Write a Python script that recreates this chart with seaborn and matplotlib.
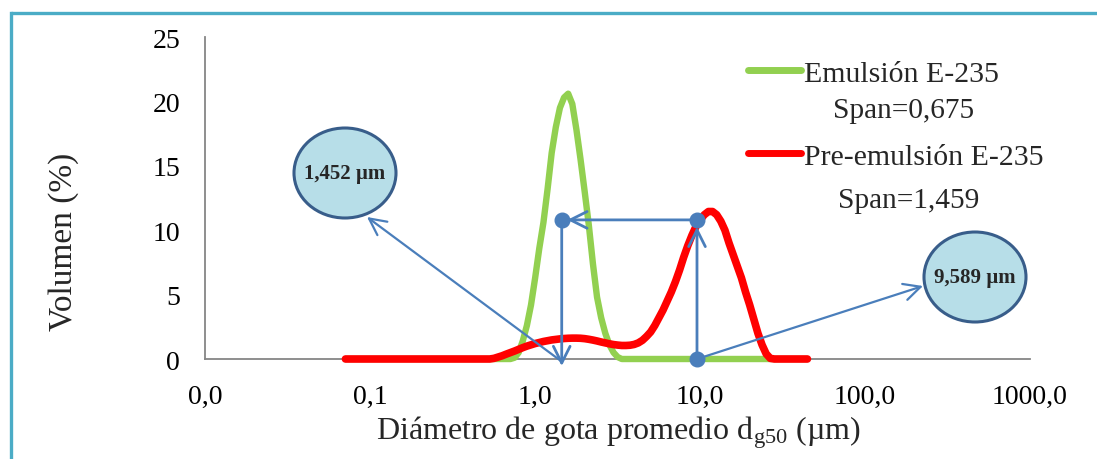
import matplotlib
matplotlib.use("Agg")
import matplotlib.pyplot as plt
from matplotlib.patches import Ellipse
from matplotlib.lines import Line2D
from matplotlib.ticker import FixedLocator, FuncFormatter
import seaborn as sns
import pandas as pd

# Particle size classes (µm)
sizes = [0.071, 0.080, 0.089, 0.100, 0.112, 0.126, 0.142, 0.159, 0.178, 0.200,
         0.224, 0.252, 0.283, 0.317, 0.356, 0.399, 0.448, 0.502, 0.532, 0.564,
         0.597, 0.632, 0.670, 0.710, 0.752, 0.796, 0.843, 0.893, 0.946, 1.002,
         1.062, 1.125, 1.192, 1.262, 1.337, 1.416, 1.500, 1.589, 1.683, 1.783,
         1.888, 2.000, 2.119, 2.244, 2.377, 2.518, 2.667, 2.825, 2.993, 3.170,
         3.358, 3.557, 3.768, 3.991, 4.227, 4.477, 4.743, 5.024, 5.322, 5.637,
         5.971, 6.325, 6.699, 7.096, 7.517, 7.962, 8.434, 8.934, 9.464, 10.024,
         10.618, 11.247, 11.913, 12.619, 13.367, 14.159, 14.998, 15.887, 16.828, 17.825,
         18.881, 20.000, 21.185, 22.440, 23.770, 25.179, 26.671, 28.251, 31.698, 35.566,
         39.905, 44.774]

# Volume (%) of the final emulsion
emulsion = [0, 0, 0, 0, 0, 0, 0, 0, 0, 0,
            0, 0, 0, 0, 0, 0, 0, 0, 0, 0,
            0, 0, 0, 0, 0.1, 0.5, 1.4, 2.6, 4.2, 6.3,
            8.6, 10.6, 13.2, 16.0, 18.0, 19.5, 20.3, 20.6, 19.8, 17.8,
            15.5, 13.0, 10.4, 7.4, 4.8, 3.2, 2.0, 1.1, 0.5, 0.15,
            0, 0, 0, 0, 0, 0, 0, 0, 0, 0,
            0, 0, 0, 0, 0, 0, 0, 0, 0, 0,
            0, 0, 0, 0, 0, 0, 0, 0, 0, 0,
            0, 0, 0, 0, 0, 0, 0, 0, 0, 0,
            0, 0]

# Volume (%) of the pre-emulsion
pre_emulsion = [0, 0, 0, 0, 0, 0, 0, 0, 0, 0,
                0, 0, 0, 0, 0, 0, 0, 0, 0, 0.05,
                0.15, 0.25, 0.38, 0.5, 0.62, 0.75, 0.88, 1.0, 1.1, 1.2,
                1.28, 1.36, 1.42, 1.48, 1.52, 1.56, 1.59, 1.61, 1.62, 1.62,
                1.61, 1.58, 1.53, 1.47, 1.40, 1.32, 1.25, 1.18, 1.12, 1.08,
                1.05, 1.05, 1.07, 1.13, 1.25, 1.45, 1.75, 2.1, 2.6, 3.2,
                3.8, 4.5, 5.2, 6.0, 6.9, 7.9, 8.8, 9.6, 10.3, 10.8,
                11.2, 11.45, 11.45, 11.2, 10.7, 10.0, 9.0, 8.1, 7.2, 6.3,
                5.2, 4.2, 3.1, 2.0, 1.1, 0.4, 0.05, 0, 0, 0,
                0, 0]

series_labels = ["Emulsión E-235", "Pre-emulsión E-235"]
span_labels = ["Span=0,675", "Span=1,459"]
d50_values = [1.452, 9.589]          # mean droplet diameters (µm)
d50_labels = ["1,452 µm", "9,589 µm"]
guide_level = 10.8                   # height of the d50 guide arrows (%)

x_ticks = [0.01, 0.1, 1, 10, 100, 1000]
y_ticks = [0, 5, 10, 15, 20, 25]

assert len(sizes) == len(emulsion) == len(pre_emulsion)

W, H = 1097, 460
sns.set_theme(style="white")
plt.rcParams["font.family"] = ["Liberation Serif", "DejaVu Serif"]
plt.rcParams["mathtext.fontset"] = "custom"
plt.rcParams["mathtext.rm"] = "Liberation Serif"
plt.rcParams["mathtext.it"] = "Liberation Serif:italic"

fig = plt.figure(figsize=(W / 100, H / 100), dpi=100)
fig.patch.set_facecolor("white")


def px(x, y):
    """Pixel position -> figure fraction."""
    return (x / W, 1 - y / H)


ax = fig.add_axes([205 / W, 1 - 360 / H, (1030 - 205) / W, (360 - 38) / H])

GREEN = "#92D050"
RED = "#FF0000"
BLUE = "#4A7EBB"

df = pd.DataFrame({"size": sizes, series_labels[0]: emulsion, series_labels[1]: pre_emulsion})
sns.lineplot(data=df, x="size", y=series_labels[0], ax=ax, color=GREEN, linewidth=4.6,
             label=series_labels[0], solid_capstyle="round", solid_joinstyle="round",
             clip_on=False, zorder=3)
sns.lineplot(data=df, x="size", y=series_labels[1], ax=ax, color=RED, linewidth=5.5,
             label=series_labels[1], solid_capstyle="round", solid_joinstyle="round",
             clip_on=False, zorder=4)

ax.set_xscale("log")
ax.set_xlim(0.01, 1000)
ax.set_ylim(0, 25)
ax.xaxis.set_major_locator(FixedLocator(x_ticks))
ax.xaxis.set_minor_locator(FixedLocator([]))
ax.xaxis.set_major_formatter(FuncFormatter(lambda v, p: f"{v:.1f}".replace(".", ",")))
ax.set_yticks(y_ticks)
ax.tick_params(axis="both", length=0, labelsize=20, pad=18, colors="black")
ax.set_xlabel("")
ax.set_ylabel("")
for side in ("top", "right"):
    ax.spines[side].set_visible(False)
for side in ("left", "bottom"):
    ax.spines[side].set_color("#868686")
    ax.spines[side].set_linewidth(1.3)

fig.text(*px(64, 242), "Volumen (%)", rotation=90, ha="center", va="center", fontsize=24)
fig.text(*px(618, 433), r"Diámetro de gota promedio d$_{\mathrm{g50}}$ (µm)",
         ha="center", va="center", fontsize=23)

# d50 guide arrows
arrow_kw = dict(arrowstyle="->,head_length=1.2,head_width=0.6", color=BLUE, lw=2.0,
                mutation_scale=10, shrinkA=0, shrinkB=0)
ax.annotate("", xy=(d50_values[0], guide_level), xytext=(d50_values[1], guide_level),
            arrowprops=dict(arrow_kw, shrinkB=4), annotation_clip=False, zorder=6)
ax.annotate("", xy=(d50_values[0], -0.55), xytext=(d50_values[0], guide_level),
            arrowprops=arrow_kw, annotation_clip=False, zorder=6)
ax.annotate("", xy=(d50_values[1], guide_level), xytext=(d50_values[1], 0),
            arrowprops=dict(arrow_kw, shrinkB=5), annotation_clip=False, zorder=6)
ax.plot([d50_values[0], d50_values[1], d50_values[1]], [guide_level, guide_level, 0],
        linestyle="none", marker="o", markersize=10.5, color=BLUE, clip_on=False, zorder=7)

# call-out bubbles
bubble_centres = [(345, 174), (975, 278)]
bubble_tips = [(367, 218), (923, 287)]
bubble_bases = [(d50_values[0], -0.2), (d50_values[1], 0)]
diag_kw = dict(arrowstyle="->,head_length=1.2,head_width=0.6", color=BLUE, lw=1.6,
               mutation_scale=10, shrinkA=0, shrinkB=0)
for centre, tip, base, text in zip(bubble_centres, bubble_tips, bubble_bases, d50_labels):
    ax.annotate("", xy=px(*tip), xycoords="figure fraction", xytext=base,
                textcoords="data", arrowprops=diag_kw, annotation_clip=False, zorder=6)
    e = Ellipse(px(*centre), 102 / W, 90 / H, transform=fig.transFigure,
                facecolor="#B7DEE8", edgecolor="#385D8A", linewidth=2.2, zorder=8)
    fig.add_artist(e)
    fig.text(*px(*centre), text, ha="center", va="center", fontsize=15,
             fontweight="bold", zorder=9)

# legend and span notes
leg = ax.legend(loc="upper left", bbox_to_anchor=px(748, 61), bbox_transform=fig.transFigure,
                frameon=False, fontsize=21.5, handlelength=1.77, handletextpad=0.1,
                labelspacing=1.87, borderpad=0, borderaxespad=0)
for line in leg.get_lines():
    line.set_linewidth(5)
    line.set_solid_capstyle("round")
fig.text(*px(833, 111), span_labels[0], ha="left", va="center", fontsize=21.2)
fig.text(*px(838, 201), span_labels[1], ha="left", va="center", fontsize=21.2)

# frame around the figure
fig.add_artist(Line2D([11 / W, 1], [1 - 14 / H, 1 - 14 / H], transform=fig.transFigure,
                      color="#4BACC6", linewidth=2.4, solid_capstyle="butt"))
fig.add_artist(Line2D([11 / W, 11 / W], [0, 1 - 14 / H], transform=fig.transFigure,
                      color="#4BACC6", linewidth=2.4, solid_capstyle="projecting"))

fig.savefig("out.png", dpi=100, facecolor="white")
